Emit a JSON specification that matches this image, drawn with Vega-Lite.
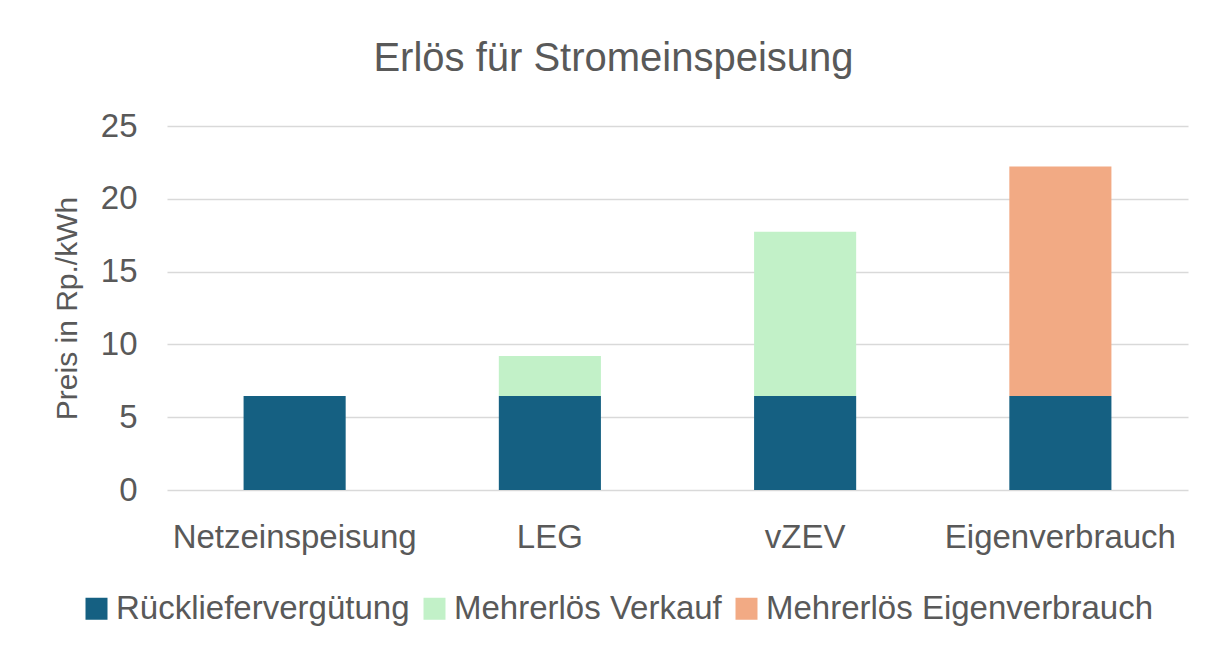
{
  "$schema": "https://vega.github.io/schema/vega-lite/v6.json",
  "autosize": {"type": "none"},
  "width": 1021,
  "height": 364,
  "padding": {"left": 167, "top": 126, "right": 26, "bottom": 156},
  "background": "white",
  "title": {
    "text": "Erlös für Stromeinspeisung",
    "fontSize": 40,
    "font": "Liberation Sans",
    "fontWeight": "normal",
    "color": "#595959",
    "anchor": "middle",
    "dx": -64,
    "offset": 31
  },
  "data": {
    "values": [
      {"kategorie": "Netzeinspeisung", "serie": "Rücklieferverg\u00fctung", "wert": 6.46, "ord": 1},
      {"kategorie": "LEG", "serie": "Rücklieferverg\u00fctung", "wert": 6.46, "ord": 1},
      {"kategorie": "LEG", "serie": "Mehrerlös Verkauf", "wert": 2.75, "ord": 2},
      {"kategorie": "vZEV", "serie": "Rücklieferverg\u00fctung", "wert": 6.46, "ord": 1},
      {"kategorie": "vZEV", "serie": "Mehrerlös Verkauf", "wert": 11.27, "ord": 2},
      {"kategorie": "Eigenverbrauch", "serie": "Rücklieferverg\u00fctung", "wert": 6.46, "ord": 1},
      {"kategorie": "Eigenverbrauch", "serie": "Mehrerlös Eigenverbrauch", "wert": 15.76, "ord": 3}
    ]
  },
  "mark": {"type": "bar"},
  "encoding": {
    "x": {
      "field": "kategorie",
      "type": "nominal",
      "sort": ["Netzeinspeisung", "LEG", "vZEV", "Eigenverbrauch"],
      "scale": {"paddingInner": 0.6, "paddingOuter": 0.3},
      "axis": {
        "title": null,
        "labelAngle": 0,
        "labelFontSize": 33,
        "labelFont": "Liberation Sans",
        "labelColor": "#595959",
        "labelPadding": 31,
        "labelLimit": 0,
        "ticks": false,
        "domain": false
      }
    },
    "y": {
      "field": "wert",
      "type": "quantitative",
      "stack": "zero",
      "scale": {"domain": [0, 25]},
      "axis": {
        "title": "Preis in Rp./kWh",
        "titleFontSize": 30,
        "titleFont": "Liberation Sans",
        "titleFontWeight": "normal",
        "titleColor": "#595959",
        "titlePadding": 18,
        "values": [0, 5, 10, 15, 20, 25],
        "labelFontSize": 33,
        "labelFont": "Liberation Sans",
        "labelColor": "#595959",
        "labelPadding": 30,
        "ticks": false,
        "domain": false,
        "grid": true,
        "gridColor": "#D9D9D9",
        "gridWidth": 1.5
      }
    },
    "color": {
      "field": "serie",
      "type": "nominal",
      "sort": ["Rücklieferverg\u00fctung", "Mehrerlös Verkauf", "Mehrerlös Eigenverbrauch"],
      "scale": {
        "domain": ["Rücklieferverg\u00fctung", "Mehrerlös Verkauf", "Mehrerlös Eigenverbrauch"],
        "range": ["#156082", "#C2F1C8", "#F2AA84"]
      },
      "legend": {
        "title": null,
        "orient": "none",
        "direction": "horizontal",
        "legendX": -87,
        "legendY": 466,
        "symbolType": "square",
        "symbolSize": 484,
        "symbolStrokeWidth": 0,
        "labelFontSize": 33,
        "labelFont": "Liberation Sans",
        "labelColor": "#595959",
        "labelOffset": 3,
        "labelLimit": 0,
        "columnPadding": 8
      }
    },
    "order": {"field": "ord", "type": "quantitative"}
  },
  "config": {"view": {"stroke": null}}
}
